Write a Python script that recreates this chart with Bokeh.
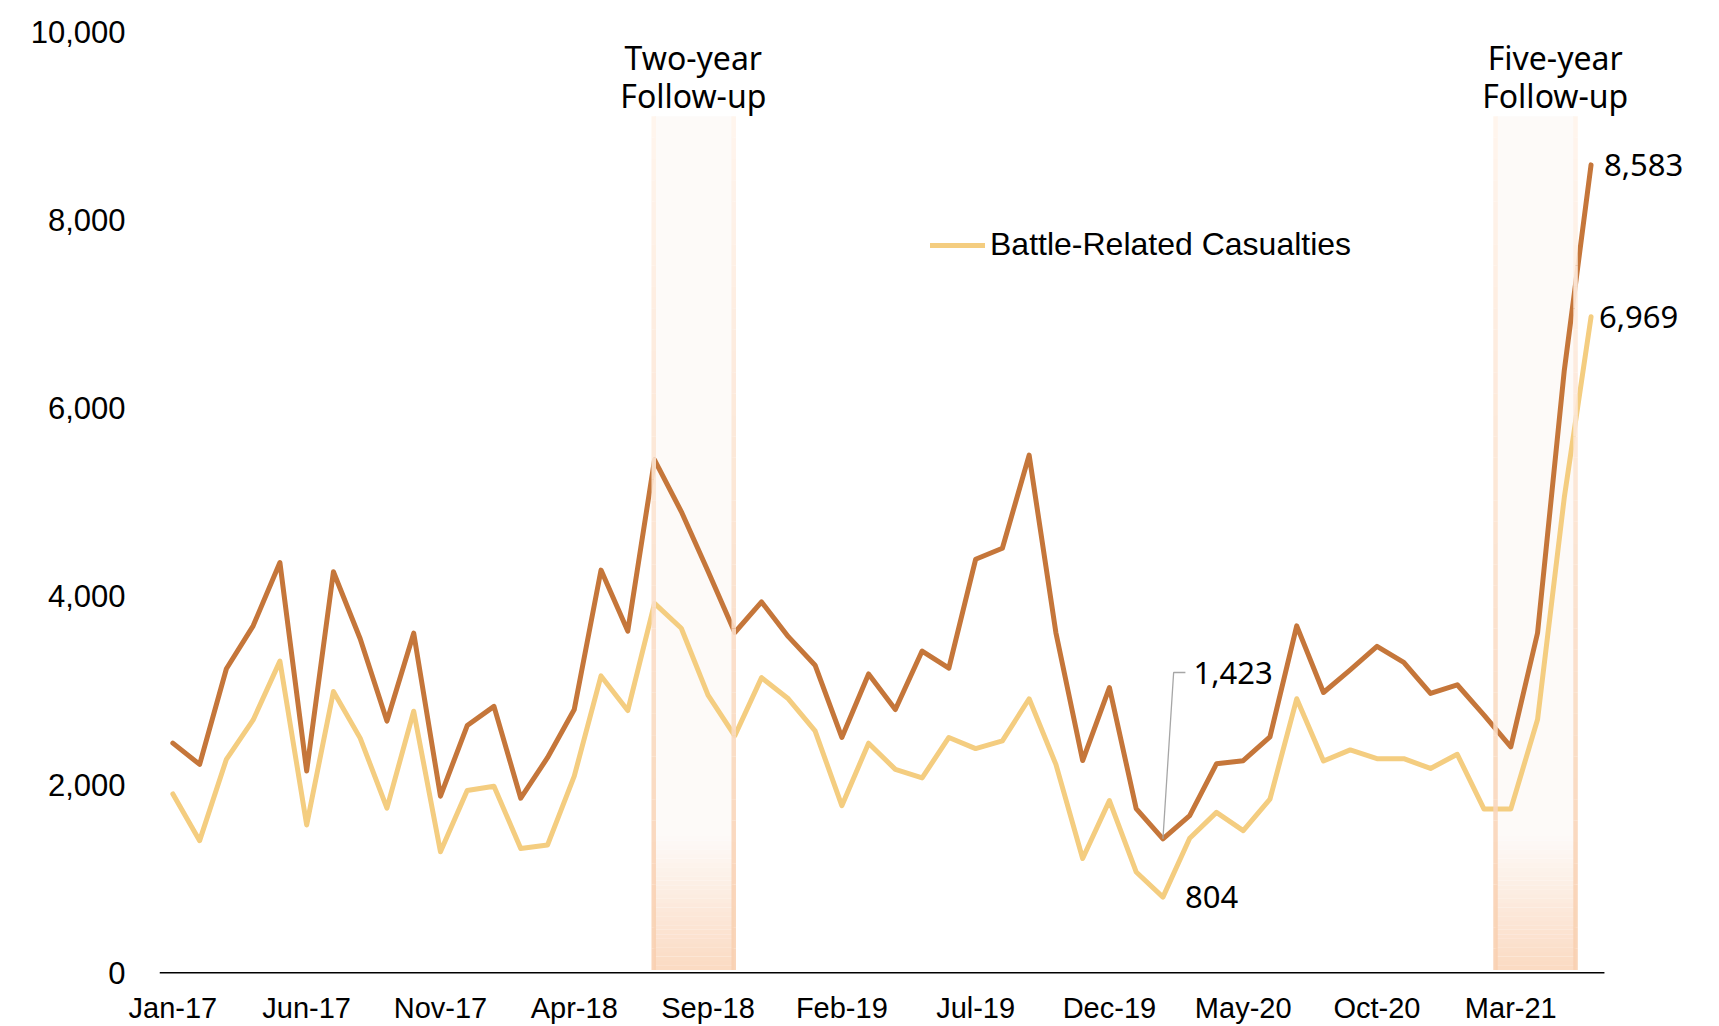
import pandas as pd
from bokeh.plotting import figure
from bokeh.models import Range1d, FixedTicker, NumeralTickFormatter, Legend, LegendItem, Label
from bokeh.embed import file_html
from bokeh.resources import INLINE

# ---------------- data ----------------
months = [d.strftime("%b-%y") for d in pd.date_range("2017-01-01", periods=54, freq="MS")]
tick_labels = ["Jan-17", "Jun-17", "Nov-17", "Apr-18", "Sep-18", "Feb-19",
               "Jul-19", "Dec-19", "May-20", "Oct-20", "Mar-21"]

total_casualties = [
    2440, 2214, 3230, 3686, 4358, 2144, 4261, 3549, 2674, 3608, 1876, 2627,
    2830, 1855, 2285, 2797, 4278, 3630, 5450, 4900, 4265, 3615, 3940, 3571,
    3268, 2500, 3175, 2797, 3418, 3236, 4393, 4510, 5500, 3613, 2255, 3030,
    1745, 1423, 1669, 2220, 2253, 2507, 3686, 2978, 3219, 3468, 3297, 2968,
    3060, 2738, 2400, 3610, 6400, 8583]

battle_casualties = [
    1900, 1404, 2268, 2686, 3311, 1571, 2989, 2493, 1750, 2779, 1286, 1936,
    1982, 1321, 1357, 2089, 3154, 2786, 3925, 3660, 2950, 2518, 3136, 2911,
    2571, 1775, 2439, 2161, 2071, 2500, 2382, 2464, 2911, 2214, 1214, 1829,
    1071, 804, 1429, 1704, 1511, 1846, 2911, 2250, 2368, 2275, 2275, 2171,
    2321, 1739, 1739, 2690, 5050, 6969]

window_labels = [("Two-year", "Follow-up"), ("Five-year", "Follow-up")]

x = list(range(len(months)))
DARK = "#C5763A"
LIGHT = "#F4CD80"
AX_FONT = "Liberation Sans"
ANN_FONT = "Noto Sans"

# frame extends to the right edge so the end labels are not clipped;
# the baseline is drawn only across the data slots.
p = figure(width=1719, height=1026, output_backend="svg", toolbar_location=None,
           x_range=Range1d(-0.5, 57.8), y_range=Range1d(-50, 10000),
           min_border_left=159, min_border_right=0, min_border_top=31,
           min_border_bottom=49)
p.outline_line_color = None
p.xgrid.visible = False
p.ygrid.visible = False
p.background_fill_color = "white"
p.border_fill_color = "white"

# ---------------- axes ----------------
p.xaxis.ticker = FixedTicker(ticks=[months.index(t) for t in tick_labels])
p.xaxis.major_label_overrides = {months.index(t): t for t in tick_labels}
p.xaxis.major_tick_out = 0
p.xaxis.major_tick_in = 0
p.xaxis.minor_tick_line_color = None
p.xaxis.axis_line_color = None
p.xaxis.major_label_text_font = AX_FONT
p.xaxis.major_label_text_font_size = "29px"
p.xaxis.major_label_text_color = "black"
p.xaxis.major_label_standoff = 14

p.yaxis.ticker = FixedTicker(ticks=[0, 2000, 4000, 6000, 8000, 10000])
p.yaxis.formatter = NumeralTickFormatter(format="0,0")
p.yaxis.axis_line_color = None
p.yaxis.major_tick_line_color = None
p.yaxis.minor_tick_line_color = None
p.yaxis.major_label_text_font = AX_FONT
p.yaxis.major_label_text_font_size = "31px"
p.yaxis.major_label_text_color = "black"
p.yaxis.major_label_standoff = 28


# ---------------- highlight windows (gradient) ----------------
def h2r(h):
    h = h.lstrip("#")
    return tuple(int(h[i:i + 2], 16) for i in (0, 2, 4))


def mix(c1, c2, t):
    a, b = h2r(c1), h2r(c2)
    return "#%02x%02x%02x" % tuple(round(a[i] + (b[i] - a[i]) * t) for i in range(3))


windows = [(17.97, 20.96, 19.45), (49.43, 52.42, 51.66)]
BAND_TOP, BAND_BOT, GRAD_TOP = 9100, 30, 1450
FILL_TOP, FILL_BOT = "#FDFAF8", "#FBDAC2"
EDGE_TOP, EDGE_BOT = "#FFF4EC", "#F8CFAF"

for (l, r, c) in windows:
    p.quad(left=l, right=r, bottom=GRAD_TOP, top=BAND_TOP, fill_color=FILL_TOP, line_color=None)
    n = 30
    for k in range(n):
        y0 = BAND_BOT + (GRAD_TOP - BAND_BOT) * k / n
        y1 = BAND_BOT + (GRAD_TOP - BAND_BOT) * (k + 1) / n
        p.quad(left=l, right=r, bottom=y0, top=y1 + 2,
               fill_color=mix(FILL_BOT, FILL_TOP, (k + 0.5) / n), line_color=None)

# x baseline across the data slots
p.segment(x0=[-0.5], y0=[0], x1=[len(months) - 0.5], y1=[0], line_color="black", line_width=1.6)

# ---------------- lines ----------------
r_total = p.line(x, total_casualties, line_color=DARK, line_width=5,
                 line_join="round", line_cap="round")
r_battle = p.line(x, battle_casualties, line_color=LIGHT, line_width=5,
                  line_join="round", line_cap="round")

# band edges on top of lines
for (l, r, c) in windows:
    n = 40
    for k in range(n):
        y0 = BAND_BOT + (BAND_TOP - BAND_BOT) * k / n
        y1 = BAND_BOT + (BAND_TOP - BAND_BOT) * (k + 1) / n
        col = mix(EDGE_BOT, EDGE_TOP, (k + 0.5) / n)
        p.segment(x0=[l, r], y0=[y0, y0], x1=[l, r], y1=[y1, y1],
                  line_color=col, line_width=4.5, line_alpha=0.9)


def add_label(xv, yv, txt, size, align="left", xo=0, yo=0):
    p.add_layout(Label(x=xv, y=yv, text=txt, x_offset=xo, y_offset=yo,
                       text_font=ANN_FONT, text_font_size=size, text_align=align,
                       text_baseline="middle", text_color="black"))


# window titles
for (l, r, c), (t1, t2) in zip(windows, window_labels):
    add_label(c, 9720, t1, "32px", align="center")
    add_label(c, 9320, t2, "32px", align="center")

# ---------------- value annotations ----------------
last = len(x) - 1
add_label(last, total_casualties[last], f"{total_casualties[last]:,}", "31px", xo=13)
add_label(last, battle_casualties[last], f"{battle_casualties[last]:,}", "31px", xo=8)

i_min = total_casualties.index(min(total_casualties))
p.line(x=[i_min, i_min + 0.40, i_min + 0.84], y=[total_casualties[i_min], 3190, 3190],
       line_color="#A6A6A6", line_width=1.3)
add_label(i_min + 0.84, 3190, f"{total_casualties[i_min]:,}", "31px", xo=8)

j_min = battle_casualties.index(min(battle_casualties))
add_label(j_min, battle_casualties[j_min], f"{battle_casualties[j_min]:,}", "31px", xo=22)

# ---------------- legend ----------------
legend = Legend(items=[LegendItem(label="Battle-Related Casualties", renderers=[r_battle])],
                location=(771, 714), background_fill_alpha=0, border_line_color=None,
                label_text_font=AX_FONT, label_text_font_size="32px",
                label_text_color="black", glyph_width=55, glyph_height=36,
                label_height=36, label_standoff=5, padding=0, margin=0, spacing=0)
p.add_layout(legend)

open("out.html", "w").write(file_html(p, INLINE))
